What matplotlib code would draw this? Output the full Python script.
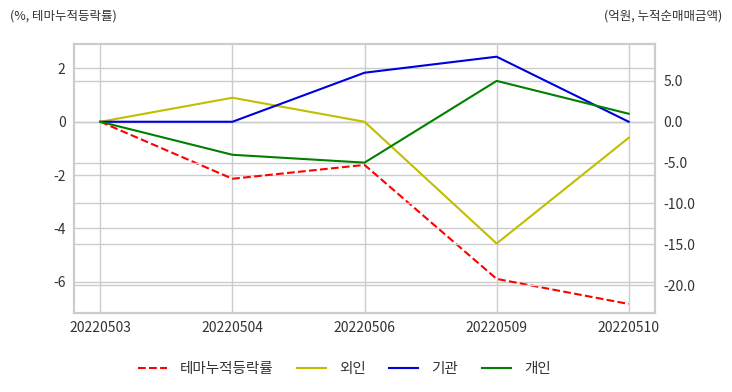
import matplotlib
matplotlib.use("Agg")
import matplotlib.pyplot as plt
from matplotlib.ticker import FormatStrFormatter

plt.rcParams['font.family'] = ['Noto Sans CJK KR', 'DejaVu Sans']
plt.rcParams['axes.unicode_minus'] = False

# data
dates = ['20220503', '20220504', '20220506', '20220509', '20220510']
theme_rate = [0.0, -2.14, -1.62, -5.9, -6.84]   # 테마누적등락률 (%)
foreign = [0.0, 2.94, 0.0, -14.9, -1.96]        # 외인 (억원)
institution = [0.0, 0.0, 6.0, 7.96, 0.0]        # 기관
individual = [0.0, -4.04, -5.0, 5.0, 0.98]      # 개인

grid_c = '#cccccc'
text_c = '#333333'

fig = plt.figure(figsize=(7.32, 3.92), dpi=100)
ax = fig.add_axes([0.101, 0.2015, 0.794, 0.687])
ax2 = ax.twinx()

x = range(len(dates))
l1, = ax.plot(x, theme_rate, color='red', linestyle='--', linewidth=1.5, label='테마누적등락률')
l2, = ax2.plot(x, foreign, color='#bfbf00', linewidth=1.5, label='외인')
l3, = ax2.plot(x, institution, color='#0000dd', linewidth=1.5, label='기관')
l4, = ax2.plot(x, individual, color='green', linewidth=1.5, label='개인')

ax.set_xlim(-0.2, 4.2)
ax.set_ylim(-7.18, 2.93)
ax2.set_ylim(-23.4, 9.55)
ax.set_xticks(list(x))
ax.set_xticklabels(dates)
ax.set_yticks([-6, -4, -2, 0, 2])
ax2.set_yticks([-20, -15, -10, -5, 0, 5])
ax2.yaxis.set_major_formatter(FormatStrFormatter('%.1f'))

ax.grid(True, color=grid_c, linewidth=1)
ax2.grid(True, axis='y', color=grid_c, linewidth=1)
ax.set_axisbelow(True)
ax2.set_axisbelow(True)

for a in (ax, ax2):
    for s in a.spines.values():
        s.set_color(grid_c)
        s.set_linewidth(1.5)
    a.tick_params(length=0, labelsize=10, colors=text_c, pad=6)

fig.text(0.014, 0.96, '(%, 테마누적등락률)', fontsize=9, color=text_c, va='center')
fig.text(0.986, 0.96, '(억원, 누적순매매금액)', fontsize=9, color=text_c, va='center', ha='right')

fig.legend(handles=[l1, l2, l3, l4], loc='center', bbox_to_anchor=(0.47, 0.059),
           ncol=4, frameon=False, fontsize=10.5, handlelength=2.0, handletextpad=0.9,
           columnspacing=1.6, labelcolor=text_c)

fig.savefig('out.png', dpi=100, facecolor='white')
